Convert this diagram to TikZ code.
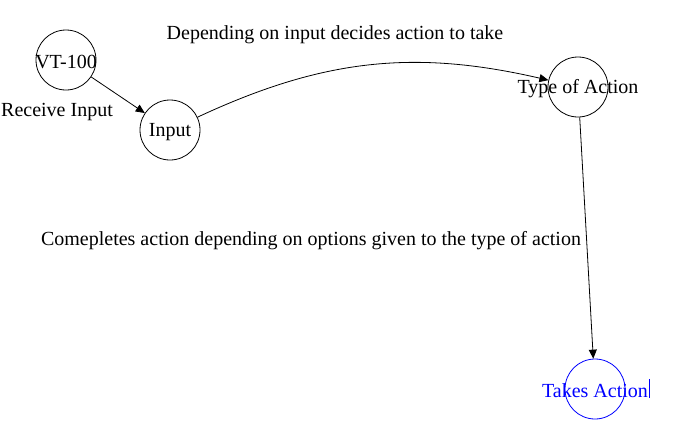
\documentclass[tikz,border=0pt]{standalone}
\usepackage{fontspec}
\setmainfont{Liberation Serif}
\usetikzlibrary{arrows.meta}

\begin{document}
\begin{tikzpicture}[x=1pt,y=-1pt,line width=0.8pt,
    every label/.style={inner sep=0pt,yshift=-2pt,font=\fontsize{20}{24}\selectfont},
    state/.style={circle,draw,minimum size=60pt,inner sep=0pt},
    note/.style={inner sep=0pt,yshift=-2pt,font=\fontsize{20}{24}\selectfont},
    link/.style={-{Triangle[length=9pt,width=8pt]}}]
\useasboundingbox (0,0) rectangle (675,437);
\node[state,label={center:VT-100}] (vt) at (66,60) {};
\node[state,label={center:Input}] (input) at (170,130) {};
\node[state,label={center:Type of Action}] (type) at (578,87) {};
\node[state,draw=blue,label={[text=blue]center:Takes Action}] (takes) at (595,389) {};
\node[note] (recv) at (57,110) {Receive Input};
\node[note] (dep) at (335,33) {Depending on input decides action to take};
\node[note] (comp) at (311,239) {Comepletes action depending on options given to the type of action};
\coordinate (curtop) at (649,379);
\coordinate (curbot) at (649,398);
\draw[link] (vt) -- (input);
\draw[link] (input) to[out=25,in=167] (type);
\draw[link] (type) -- (takes);
\draw[blue] (curtop) -- (curbot);
\end{tikzpicture}
\end{document}
